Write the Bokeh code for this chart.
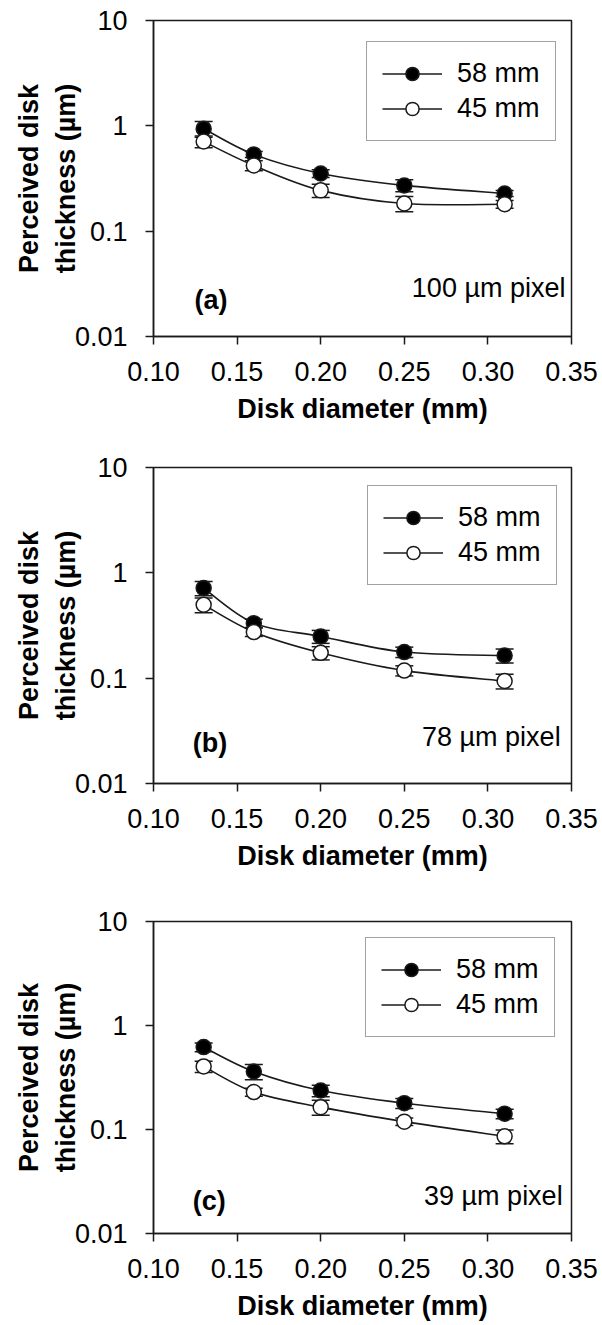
import numpy as np
from bokeh.plotting import figure
from bokeh.models import Range1d, FixedTicker, Legend, LegendItem, Label
from bokeh.layouts import column
from bokeh.embed import file_html
from bokeh.resources import INLINE

# ---------------- data ----------------
diameters = [0.13, 0.16, 0.20, 0.25, 0.31]
x_ticks = [0.10, 0.15, 0.20, 0.25, 0.30, 0.35]
x_tick_labels = ["0.10", "0.15", "0.20", "0.25", "0.30", "0.35"]
y_ticks = [0.01, 0.1, 1, 10]
y_tick_labels = ["0.01", "0.1", "1", "10"]
series_labels = ["58 mm", "45 mm"]
panel_tags = ["(a)", "(b)", "(c)"]
pixel_notes = ["100 \u00b5m pixel", "78 \u00b5m pixel", "39 \u00b5m pixel"]

a_58 = [0.94, 0.535, 0.353, 0.272, 0.228]
a_58_err = [0.16, 0.035, 0.03, 0.035, 0.015]
a_45 = [0.71, 0.42, 0.244, 0.183, 0.18]
a_45_err = [0.09, 0.045, 0.035, 0.03, 0.015]

b_58 = [0.716, 0.333, 0.249, 0.177, 0.164]
b_58_err = [0.11, 0.03, 0.035, 0.02, 0.025]
b_45 = [0.498, 0.274, 0.174, 0.118, 0.094]
b_45_err = [0.08, 0.025, 0.025, 0.013, 0.015]

c_58 = [0.62, 0.361, 0.237, 0.179, 0.142]
c_58_err = [0.06, 0.06, 0.03, 0.02, 0.015]
c_45 = [0.404, 0.229, 0.164, 0.119, 0.086]
c_45_err = [0.05, 0.02, 0.027, 0.01, 0.013]

# ---------------- style / layout ----------------
FONT = "Liberation Sans"
INK = "#1a1a1a"
FS = "27px"

panels = [
    dict(s58=a_58, e58=a_58_err, s45=a_45, e45=a_45_err, tag=panel_tags[0], note=pixel_notes[0],
         height=440, left=150, top=20, bottom=104, frame_w=421,
         legend_loc=(213, 195), tag_pos=(0.1245, 0.022), note_pos=(0.3464, 0.029)),
    dict(s58=b_58, e58=b_58_err, s45=b_45, e45=b_45_err, tag=panel_tags[1], note=pixel_notes[1],
         height=450, left=153, top=27, bottom=107, frame_w=420,
         legend_loc=(214, 198), tag_pos=(0.1235, 0.024), note_pos=(0.3435, 0.0275)),
    dict(s58=c_58, e58=c_58_err, s45=c_45, e45=c_45_err, tag=panel_tags[2], note=pixel_notes[2],
         height=435, left=151, top=31, bottom=92, frame_w=421,
         legend_loc=(212, 196), tag_pos=(0.1235, 0.0207), note_pos=(0.3447, 0.023)),
]
FIG_W = 602


def smooth_curve(xs, ys):
    """Catmull-Rom spline through the points, in (x, log10 y) space, as cubic bezier pieces."""
    lx = np.asarray(xs, float)
    ly = np.log10(np.asarray(ys, float))
    n = len(lx)
    px = np.concatenate([[lx[0]], lx, [lx[-1]]])
    py = np.concatenate([[ly[0]], ly, [ly[-1]]])
    cx0 = lx[:-1] + (px[2:n + 1] - px[0:n - 1]) / 6.0
    cy0 = ly[:-1] + (py[2:n + 1] - py[0:n - 1]) / 6.0
    cx1 = lx[1:] - (px[3:n + 2] - px[1:n]) / 6.0
    cy1 = ly[1:] - (py[3:n + 2] - py[1:n]) / 6.0
    return dict(x0=lx[:-1], y0=10 ** ly[:-1], x1=lx[1:], y1=10 ** ly[1:],
                cx0=cx0, cy0=10 ** cy0, cx1=cx1, cy1=10 ** cy1)


def make_panel(cfg):
    p = figure(width=FIG_W, height=cfg["height"], y_axis_type="log",
               x_range=Range1d(0.10, 0.35), y_range=Range1d(0.01, 10),
               output_backend="svg", toolbar_location=None,
               min_border_left=cfg["left"], min_border_top=cfg["top"],
               min_border_bottom=cfg["bottom"],
               min_border_right=FIG_W - cfg["left"] - cfg["frame_w"])
    p.grid.visible = False
    p.outline_line_color = INK
    p.outline_line_width = 1.5
    p.background_fill_color = "white"
    p.border_fill_color = "white"

    for ax in (p.xaxis[0], p.yaxis[0]):
        ax.axis_line_color = INK
        ax.axis_line_width = 1.5
        ax.major_tick_line_color = INK
        ax.major_tick_line_width = 1.5
        ax.major_tick_out = 8
        ax.major_tick_in = 0
        ax.minor_tick_line_color = None
        ax.major_label_text_font = FONT
        ax.major_label_text_font_size = FS
        ax.major_label_text_color = "black"
        ax.axis_label_text_font = FONT
        ax.axis_label_text_font_size = FS
        ax.axis_label_text_font_style = "bold"
        ax.axis_label_text_color = "black"

    p.xaxis.ticker = FixedTicker(ticks=x_ticks)
    p.xaxis.major_label_overrides = {t: s for t, s in zip(x_ticks, x_tick_labels)}
    p.yaxis.ticker = FixedTicker(ticks=y_ticks)
    p.yaxis.major_label_overrides = {t: s for t, s in zip(y_ticks, y_tick_labels)}
    p.xaxis.axis_label = "Disk diameter (mm)"
    p.yaxis.axis_label = "Perceived disk\nthickness (\u00b5m)"
    p.xaxis.major_label_standoff = 17
    p.xaxis.axis_label_standoff = 10
    p.yaxis.major_label_standoff = 18
    p.yaxis.axis_label_standoff = -9
    p.yaxis.axis_label_text_line_height = 1.22

    items = []
    for label, vals, errs, fill in ((series_labels[0], cfg["s58"], cfg["e58"], "black"),
                                    (series_labels[1], cfg["s45"], cfg["e45"], "white")):
        v = np.asarray(vals, float)
        e = np.asarray(errs, float)
        curve = p.bezier(source=smooth_curve(diameters, vals), x0="x0", y0="y0", x1="x1", y1="y1",
                         cx0="cx0", cy0="cy0", cx1="cx1", cy1="cy1",
                         line_color=INK, line_width=1.6)
        p.segment(x0=diameters, y0=v - e, x1=diameters, y1=v + e, line_color=INK, line_width=1.5)
        p.scatter(x=diameters + diameters, y=list(v - e) + list(v + e), marker="dash",
                  size=18, line_color=INK, line_width=1.5)
        dots = p.scatter(x=diameters, y=vals, marker="circle", size=15,
                         fill_color=fill, line_color=INK, line_width=1.5)
        items.append(LegendItem(label=label, renderers=[curve, dots]))

    legend = Legend(items=items, location=cfg["legend_loc"],
                    glyph_width=60, glyph_height=33, label_height=33,
                    label_standoff=15, padding=15, spacing=2, margin=0,
                    border_line_color="#444444", border_line_width=1.5,
                    background_fill_color="white", background_fill_alpha=1.0,
                    label_text_font=FONT, label_text_font_size=FS,
                    label_text_color="black")
    p.add_layout(legend)

    tx, ty = cfg["tag_pos"]
    p.add_layout(Label(x=tx, y=ty, text=cfg["tag"], text_font=FONT, text_font_size=FS,
                       text_font_style="bold", text_baseline="middle", text_align="left",
                       text_color="black"))
    nx, ny = cfg["note_pos"]
    p.add_layout(Label(x=nx, y=ny, text=cfg["note"], text_font=FONT, text_font_size=FS,
                       text_baseline="middle", text_align="right", text_color="black"))
    return p


figs = [make_panel(c) for c in panels]
layout = column(*figs, spacing=0)

open("out.html", "w").write(file_html(layout, INLINE))
